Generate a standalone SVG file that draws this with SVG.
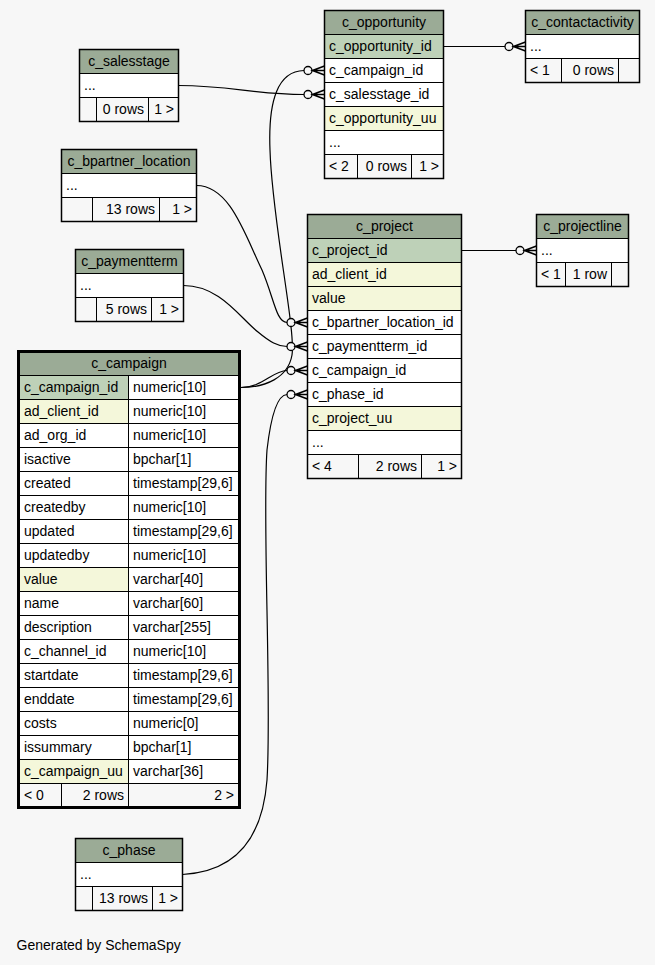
<svg xmlns="http://www.w3.org/2000/svg" xmlns:xlink="http://www.w3.org/1999/xlink" width="655" height="965" viewBox="0 0 655 965">
<style>
.b{stroke:#000;stroke-width:1}
.hd{fill:#9bab96}
.pk{fill:#bed1b8}
.ix{fill:#f4f7da}
.w{fill:#fff}
.ft{fill:#f7f7f7}
.o{fill:none;stroke:#000;stroke-width:1.5}
.oo{fill:none;stroke:#000;stroke-width:3}
text{font-family:"Liberation Sans",Arial,sans-serif;font-size:14px;fill:#000}
.c{text-anchor:middle}
.r{text-anchor:end}
.e{fill:none;stroke:#000;stroke-width:1.2}
.cf{fill:none;stroke:#000;stroke-width:1.6}
</style>
<defs>
<g id="crow">
<circle cx="-16.5" cy="0" r="4" fill="#f7f7f7" stroke="#000" stroke-width="1.3"/>
<path class="cf" d="M0,-4.5 L-12,0 L0,4.5 M-12,0 L0,0"/>
</g>
</defs>
<rect x="0" y="0" width="655" height="965" fill="#f7f7f7"/>

<g id="c_opportunity">
<rect class="b hd" x="324.5" y="10.5" width="119" height="24"/>
<rect class="b pk" x="324.5" y="34.5" width="119" height="24"/>
<rect class="b w" x="324.5" y="58.5" width="119" height="24"/>
<rect class="b w" x="324.5" y="82.5" width="119" height="24"/>
<rect class="b ix" x="324.5" y="106.5" width="119" height="24"/>
<rect class="b w" x="324.5" y="130.5" width="119" height="24"/>
<rect class="b ft" x="324.5" y="154.5" width="33" height="24"/>
<rect class="b ft" x="357.5" y="154.5" width="54" height="24"/>
<rect class="b ft" x="411.5" y="154.5" width="32" height="24"/>
<rect class="o" x="324.5" y="10.5" width="119" height="168"/>
<text class="c" x="384" y="27">c_opportunity</text>
<text x="329" y="51">c_opportunity_id</text>
<text x="329" y="75">c_campaign_id</text>
<text x="329" y="99">c_salesstage_id</text>
<text x="329" y="123">c_opportunity_uu</text>
<text x="329" y="147">...</text>
<text x="329" y="171">&lt; 2</text>
<text class="r" x="407" y="171">0 rows</text>
<text class="r" x="439" y="171">1 &gt;</text>
</g>

<g id="c_contactactivity">
<rect class="b hd" x="525.5" y="10.5" width="114" height="24"/>
<rect class="b w" x="525.5" y="34.5" width="114" height="24"/>
<rect class="b ft" x="525.5" y="58.5" width="36" height="24"/>
<rect class="b ft" x="561.5" y="58.5" width="57" height="24"/>
<rect class="b ft" x="618.5" y="58.5" width="21" height="24"/>
<rect class="o" x="525.5" y="10.5" width="114" height="72"/>
<text class="c" x="582.5" y="27">c_contactactivity</text>
<text x="530" y="51">...</text>
<text x="530" y="75">&lt; 1</text>
<text class="r" x="614" y="75">0 rows</text>
</g>

<g id="c_salesstage">
<rect class="b hd" x="79.5" y="49.5" width="99" height="24"/>
<rect class="b w" x="79.5" y="73.5" width="99" height="24"/>
<rect class="b ft" x="79.5" y="97.5" width="17" height="24"/>
<rect class="b ft" x="96.5" y="97.5" width="52" height="24"/>
<rect class="b ft" x="148.5" y="97.5" width="30" height="24"/>
<rect class="o" x="79.5" y="49.5" width="99" height="72"/>
<text class="c" x="129" y="66">c_salesstage</text>
<text x="84" y="90">...</text>
<text class="r" x="144" y="114">0 rows</text>
<text class="r" x="174" y="114">1 &gt;</text>
</g>

<g id="c_bpartner_location">
<rect class="b hd" x="61.5" y="149.5" width="135" height="24"/>
<rect class="b w" x="61.5" y="173.5" width="135" height="24"/>
<rect class="b ft" x="61.5" y="197.5" width="31" height="24"/>
<rect class="b ft" x="92.5" y="197.5" width="67" height="24"/>
<rect class="b ft" x="159.5" y="197.5" width="37" height="24"/>
<rect class="o" x="61.5" y="149.5" width="135" height="72"/>
<text class="c" x="129" y="166">c_bpartner_location</text>
<text x="66" y="190">...</text>
<text class="r" x="155" y="214">13 rows</text>
<text class="r" x="192" y="214">1 &gt;</text>
</g>

<g id="c_paymentterm">
<rect class="b hd" x="75.5" y="249.5" width="108" height="24"/>
<rect class="b w" x="75.5" y="273.5" width="108" height="24"/>
<rect class="b ft" x="75.5" y="297.5" width="21" height="24"/>
<rect class="b ft" x="96.5" y="297.5" width="55" height="24"/>
<rect class="b ft" x="151.5" y="297.5" width="32" height="24"/>
<rect class="o" x="75.5" y="249.5" width="108" height="72"/>
<text class="c" x="129.5" y="266">c_paymentterm</text>
<text x="80" y="290">...</text>
<text class="r" x="147" y="314">5 rows</text>
<text class="r" x="179" y="314">1 &gt;</text>
</g>

<g id="c_project">
<rect class="b hd" x="307.5" y="214.5" width="154" height="24"/>
<rect class="b pk" x="307.5" y="238.5" width="154" height="24"/>
<rect class="b ix" x="307.5" y="262.5" width="154" height="24"/>
<rect class="b ix" x="307.5" y="286.5" width="154" height="24"/>
<rect class="b w" x="307.5" y="310.5" width="154" height="24"/>
<rect class="b w" x="307.5" y="334.5" width="154" height="24"/>
<rect class="b w" x="307.5" y="358.5" width="154" height="24"/>
<rect class="b w" x="307.5" y="382.5" width="154" height="24"/>
<rect class="b ix" x="307.5" y="406.5" width="154" height="24"/>
<rect class="b w" x="307.5" y="430.5" width="154" height="24"/>
<rect class="b ft" x="307.5" y="454.5" width="51" height="24"/>
<rect class="b ft" x="358.5" y="454.5" width="63" height="24"/>
<rect class="b ft" x="421.5" y="454.5" width="40" height="24"/>
<rect class="o" x="307.5" y="214.5" width="154" height="264"/>
<text class="c" x="384.5" y="231">c_project</text>
<text x="312" y="255">c_project_id</text>
<text x="312" y="279">ad_client_id</text>
<text x="312" y="303">value</text>
<text x="312" y="327">c_bpartner_location_id</text>
<text x="312" y="351">c_paymentterm_id</text>
<text x="312" y="375">c_campaign_id</text>
<text x="312" y="399">c_phase_id</text>
<text x="312" y="423">c_project_uu</text>
<text x="312" y="447">...</text>
<text x="312" y="471">&lt; 4</text>
<text class="r" x="417" y="471">2 rows</text>
<text class="r" x="457" y="471">1 &gt;</text>
</g>

<g id="c_projectline">
<rect class="b hd" x="536.5" y="214.5" width="92" height="24"/>
<rect class="b w" x="536.5" y="238.5" width="92" height="24"/>
<rect class="b ft" x="536.5" y="262.5" width="29" height="24"/>
<rect class="b ft" x="565.5" y="262.5" width="46" height="24"/>
<rect class="b ft" x="611.5" y="262.5" width="17" height="24"/>
<rect class="o" x="536.5" y="214.5" width="92" height="72"/>
<text class="c" x="582.5" y="231">c_projectline</text>
<text x="541" y="255">...</text>
<text x="541" y="279">&lt; 1</text>
<text class="r" x="607" y="279">1 row</text>
</g>

<g id="c_campaign">
<rect class="b hd" x="19.5" y="351.5" width="220" height="24"/>
<rect class="b pk" x="19.5" y="375.5" width="109" height="24"/><rect class="b w" x="128.5" y="375.5" width="111" height="24"/>
<rect class="b ix" x="19.5" y="399.5" width="109" height="24"/><rect class="b w" x="128.5" y="399.5" width="111" height="24"/>
<rect class="b w" x="19.5" y="423.5" width="109" height="24"/><rect class="b w" x="128.5" y="423.5" width="111" height="24"/>
<rect class="b w" x="19.5" y="447.5" width="109" height="24"/><rect class="b w" x="128.5" y="447.5" width="111" height="24"/>
<rect class="b w" x="19.5" y="471.5" width="109" height="24"/><rect class="b w" x="128.5" y="471.5" width="111" height="24"/>
<rect class="b w" x="19.5" y="495.5" width="109" height="24"/><rect class="b w" x="128.5" y="495.5" width="111" height="24"/>
<rect class="b w" x="19.5" y="519.5" width="109" height="24"/><rect class="b w" x="128.5" y="519.5" width="111" height="24"/>
<rect class="b w" x="19.5" y="543.5" width="109" height="24"/><rect class="b w" x="128.5" y="543.5" width="111" height="24"/>
<rect class="b ix" x="19.5" y="567.5" width="109" height="24"/><rect class="b w" x="128.5" y="567.5" width="111" height="24"/>
<rect class="b w" x="19.5" y="591.5" width="109" height="24"/><rect class="b w" x="128.5" y="591.5" width="111" height="24"/>
<rect class="b w" x="19.5" y="615.5" width="109" height="24"/><rect class="b w" x="128.5" y="615.5" width="111" height="24"/>
<rect class="b w" x="19.5" y="639.5" width="109" height="24"/><rect class="b w" x="128.5" y="639.5" width="111" height="24"/>
<rect class="b w" x="19.5" y="663.5" width="109" height="24"/><rect class="b w" x="128.5" y="663.5" width="111" height="24"/>
<rect class="b w" x="19.5" y="687.5" width="109" height="24"/><rect class="b w" x="128.5" y="687.5" width="111" height="24"/>
<rect class="b w" x="19.5" y="711.5" width="109" height="24"/><rect class="b w" x="128.5" y="711.5" width="111" height="24"/>
<rect class="b w" x="19.5" y="735.5" width="109" height="24"/><rect class="b w" x="128.5" y="735.5" width="111" height="24"/>
<rect class="b ix" x="19.5" y="759.5" width="109" height="24"/><rect class="b w" x="128.5" y="759.5" width="111" height="24"/>
<rect class="b ft" x="19.5" y="783.5" width="42" height="24"/>
<rect class="b ft" x="61.5" y="783.5" width="67" height="24"/>
<rect class="b ft" x="128.5" y="783.5" width="111" height="24"/>
<rect class="oo" x="18.5" y="351.5" width="221" height="456"/>
<text class="c" x="129" y="368">c_campaign</text>
<text x="24" y="392">c_campaign_id</text><text x="133" y="392">numeric[10]</text>
<text x="24" y="416">ad_client_id</text><text x="133" y="416">numeric[10]</text>
<text x="24" y="440">ad_org_id</text><text x="133" y="440">numeric[10]</text>
<text x="24" y="464">isactive</text><text x="133" y="464">bpchar[1]</text>
<text x="24" y="488">created</text><text x="133" y="488">timestamp[29,6]</text>
<text x="24" y="512">createdby</text><text x="133" y="512">numeric[10]</text>
<text x="24" y="536">updated</text><text x="133" y="536">timestamp[29,6]</text>
<text x="24" y="560">updatedby</text><text x="133" y="560">numeric[10]</text>
<text x="24" y="584">value</text><text x="133" y="584">varchar[40]</text>
<text x="24" y="608">name</text><text x="133" y="608">varchar[60]</text>
<text x="24" y="632">description</text><text x="133" y="632">varchar[255]</text>
<text x="24" y="656">c_channel_id</text><text x="133" y="656">numeric[10]</text>
<text x="24" y="680">startdate</text><text x="133" y="680">timestamp[29,6]</text>
<text x="24" y="704">enddate</text><text x="133" y="704">timestamp[29,6]</text>
<text x="24" y="728">costs</text><text x="133" y="728">numeric[0]</text>
<text x="24" y="752">issummary</text><text x="133" y="752">bpchar[1]</text>
<text x="24" y="776">c_campaign_uu</text><text x="133" y="776">varchar[36]</text>
<text x="24" y="800">&lt; 0</text>
<text class="r" x="124" y="800">2 rows</text>
<text class="r" x="234" y="800">2 &gt;</text>
</g>

<g id="c_phase">
<rect class="b hd" x="75.5" y="838.5" width="107" height="24"/>
<rect class="b w" x="75.5" y="862.5" width="107" height="24"/>
<rect class="b ft" x="75.5" y="886.5" width="17" height="24"/>
<rect class="b ft" x="92.5" y="886.5" width="60" height="24"/>
<rect class="b ft" x="152.5" y="886.5" width="30" height="24"/>
<rect class="o" x="75.5" y="838.5" width="107" height="72"/>
<text class="c" x="129" y="855">c_phase</text>
<text x="80" y="879">...</text>
<text class="r" x="148" y="903">13 rows</text>
<text class="r" x="178" y="903">1 &gt;</text>
</g>

<g id="connectors">
<path class="e" d="M443.5,46.5 L505,46.5"/>
<use xlink:href="#crow" href="#crow" x="525.5" y="46.5"/>
<path class="e" d="M178.5,85.5 C230,85.5 255,94.5 304,94.5"/>
<use xlink:href="#crow" href="#crow" x="324.5" y="94.5"/>
<path class="e" d="M241,387.5 C265,387.5 288,378 292,355 C296,330 272,220 270,150 C268,100 278,71 304,70.5"/>
<use xlink:href="#crow" href="#crow" x="324.5" y="70.5"/>
<path class="e" d="M241,387.5 C262,387.5 272,371 287,370.5"/>
<use xlink:href="#crow" href="#crow" x="307.5" y="370.5"/>
<path class="e" d="M196.5,185.5 C230,185.5 245,235 262,270 C274,298 276,322 287,322.5"/>
<use xlink:href="#crow" href="#crow" x="307.5" y="322.5"/>
<path class="e" d="M183.5,285.5 C220,285.5 240,318 258,332 C270,342 278,346.5 287,346.5"/>
<use xlink:href="#crow" href="#crow" x="307.5" y="346.5"/>
<path class="e" d="M182.5,874.5 C230,872 262,845 267,780 C272,700 262,520 267,450 C271,415 278,395 287,394.5"/>
<use xlink:href="#crow" href="#crow" x="307.5" y="394.5"/>
<path class="e" d="M461.5,250.5 L516,250.5"/>
<use xlink:href="#crow" href="#crow" x="536.5" y="250.5"/>
</g>

<text x="16.5" y="950">Generated by SchemaSpy</text>
</svg>
